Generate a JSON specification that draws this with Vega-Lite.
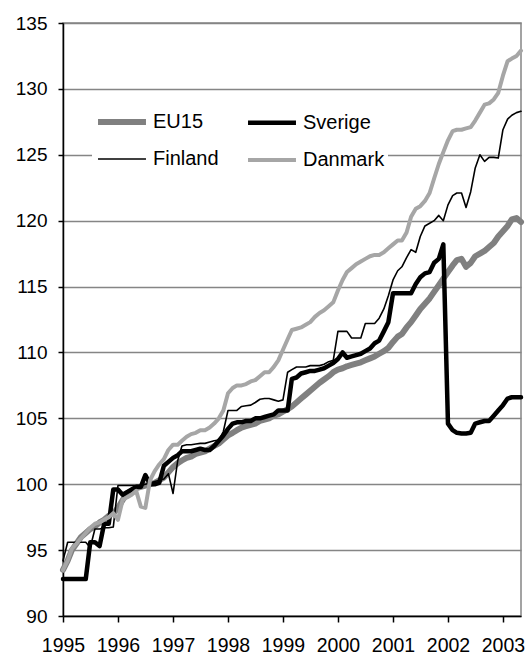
{
  "$schema": "https://vega.github.io/schema/vega-lite/v6.json",
  "autosize": "none",
  "width": 458,
  "height": 593,
  "padding": {"left": 63, "top": 23, "right": 9, "bottom": 39},
  "background": "white",
  "config": {
    "font": "Liberation Sans",
    "view": {"stroke": "#858585", "strokeWidth": 1.5}
  },
  "data": {
    "values": [
      {"date": "1995-01-01", "EU15": 93.5, "Sverige": 92.8, "Finland": 94.2, "Danmark": 93.5},
      {"date": "1995-02-01", "EU15": 94.2, "Sverige": 92.8, "Finland": 95.6, "Danmark": 94.2},
      {"date": "1995-03-01", "EU15": 95.0, "Sverige": 92.8, "Finland": 95.6, "Danmark": 95.1},
      {"date": "1995-04-01", "EU15": 95.5, "Sverige": 92.8, "Finland": 95.6, "Danmark": 95.5},
      {"date": "1995-05-01", "EU15": 96.0, "Sverige": 92.8, "Finland": 95.6, "Danmark": 95.9},
      {"date": "1995-06-01", "EU15": 96.3, "Sverige": 92.8, "Finland": 95.6, "Danmark": 96.3},
      {"date": "1995-07-01", "EU15": 96.6, "Sverige": 95.6, "Finland": 95.2, "Danmark": 96.7},
      {"date": "1995-08-01", "EU15": 96.8, "Sverige": 95.6, "Finland": 96.6, "Danmark": 97.0},
      {"date": "1995-09-01", "EU15": 97.1, "Sverige": 95.3, "Finland": 96.6, "Danmark": 97.1},
      {"date": "1995-10-01", "EU15": 97.3, "Sverige": 97.0, "Finland": 96.7, "Danmark": 97.3},
      {"date": "1995-11-01", "EU15": 97.6, "Sverige": 97.0, "Finland": 96.7, "Danmark": 97.5},
      {"date": "1995-12-01", "EU15": 97.8, "Sverige": 99.6, "Finland": 96.75, "Danmark": 97.8},
      {"date": "1996-01-01", "EU15": 98.2, "Sverige": 99.6, "Finland": 99.9, "Danmark": 97.3},
      {"date": "1996-02-01", "EU15": 98.8, "Sverige": 99.2, "Finland": 99.9, "Danmark": 98.8},
      {"date": "1996-03-01", "EU15": 99.3, "Sverige": 99.4, "Finland": 99.9, "Danmark": 99.0},
      {"date": "1996-04-01", "EU15": 99.5, "Sverige": 99.6, "Finland": 99.9, "Danmark": 99.2},
      {"date": "1996-05-01", "EU15": 99.7, "Sverige": 99.8, "Finland": 99.9, "Danmark": 99.5},
      {"date": "1996-06-01", "EU15": 99.8, "Sverige": 99.8, "Finland": 99.9, "Danmark": 98.3},
      {"date": "1996-07-01", "EU15": 99.9, "Sverige": 100.7, "Finland": 100.0, "Danmark": 98.2},
      {"date": "1996-08-01", "EU15": 100.0, "Sverige": 100.0, "Finland": 100.1, "Danmark": 100.3},
      {"date": "1996-09-01", "EU15": 100.1, "Sverige": 100.0, "Finland": 100.2, "Danmark": 101.0},
      {"date": "1996-10-01", "EU15": 100.3, "Sverige": 100.1, "Finland": 100.3, "Danmark": 101.5},
      {"date": "1996-11-01", "EU15": 100.5, "Sverige": 101.4, "Finland": 100.4, "Danmark": 101.9},
      {"date": "1996-12-01", "EU15": 100.9, "Sverige": 101.7, "Finland": 100.8, "Danmark": 102.6},
      {"date": "1997-01-01", "EU15": 101.3, "Sverige": 102.0, "Finland": 99.3, "Danmark": 103.0},
      {"date": "1997-02-01", "EU15": 101.6, "Sverige": 102.2, "Finland": 101.8, "Danmark": 103.0},
      {"date": "1997-03-01", "EU15": 101.8, "Sverige": 102.5, "Finland": 102.9, "Danmark": 103.3},
      {"date": "1997-04-01", "EU15": 102.0, "Sverige": 102.5, "Finland": 103.0, "Danmark": 103.6},
      {"date": "1997-05-01", "EU15": 102.1, "Sverige": 102.5, "Finland": 103.0, "Danmark": 103.8},
      {"date": "1997-06-01", "EU15": 102.3, "Sverige": 102.6, "Finland": 103.05, "Danmark": 103.9},
      {"date": "1997-07-01", "EU15": 102.4, "Sverige": 102.7, "Finland": 103.1, "Danmark": 104.1},
      {"date": "1997-08-01", "EU15": 102.5, "Sverige": 102.6, "Finland": 103.1, "Danmark": 104.1},
      {"date": "1997-09-01", "EU15": 102.7, "Sverige": 102.6, "Finland": 103.2, "Danmark": 104.3},
      {"date": "1997-10-01", "EU15": 102.9, "Sverige": 102.9, "Finland": 103.3, "Danmark": 104.6},
      {"date": "1997-11-01", "EU15": 103.1, "Sverige": 103.3, "Finland": 103.35, "Danmark": 105.0},
      {"date": "1997-12-01", "EU15": 103.4, "Sverige": 103.7, "Finland": 104.0, "Danmark": 105.6},
      {"date": "1998-01-01", "EU15": 103.7, "Sverige": 104.2, "Finland": 105.6, "Danmark": 106.9},
      {"date": "1998-02-01", "EU15": 103.9, "Sverige": 104.6, "Finland": 105.6, "Danmark": 107.3},
      {"date": "1998-03-01", "EU15": 104.1, "Sverige": 104.7, "Finland": 105.6, "Danmark": 107.5},
      {"date": "1998-04-01", "EU15": 104.3, "Sverige": 104.7, "Finland": 105.9, "Danmark": 107.5},
      {"date": "1998-05-01", "EU15": 104.4, "Sverige": 104.8, "Finland": 105.95, "Danmark": 107.6},
      {"date": "1998-06-01", "EU15": 104.5, "Sverige": 104.8, "Finland": 106.0, "Danmark": 107.8},
      {"date": "1998-07-01", "EU15": 104.6, "Sverige": 105.0, "Finland": 106.2, "Danmark": 107.9},
      {"date": "1998-08-01", "EU15": 104.8, "Sverige": 105.0, "Finland": 106.45, "Danmark": 108.2},
      {"date": "1998-09-01", "EU15": 104.9, "Sverige": 105.1, "Finland": 106.5, "Danmark": 108.5},
      {"date": "1998-10-01", "EU15": 105.0, "Sverige": 105.2, "Finland": 106.5, "Danmark": 108.5},
      {"date": "1998-11-01", "EU15": 105.2, "Sverige": 105.3, "Finland": 106.4, "Danmark": 108.9},
      {"date": "1998-12-01", "EU15": 105.3, "Sverige": 105.6, "Finland": 106.3, "Danmark": 109.4},
      {"date": "1999-01-01", "EU15": 105.5, "Sverige": 105.6, "Finland": 106.4, "Danmark": 110.2},
      {"date": "1999-02-01", "EU15": 105.7, "Sverige": 105.6, "Finland": 108.5, "Danmark": 111.0},
      {"date": "1999-03-01", "EU15": 105.9, "Sverige": 108.0, "Finland": 108.7, "Danmark": 111.7},
      {"date": "1999-04-01", "EU15": 106.2, "Sverige": 108.1, "Finland": 108.9, "Danmark": 111.8},
      {"date": "1999-05-01", "EU15": 106.5, "Sverige": 108.4, "Finland": 108.9, "Danmark": 111.9},
      {"date": "1999-06-01", "EU15": 106.8, "Sverige": 108.5, "Finland": 108.9, "Danmark": 112.1},
      {"date": "1999-07-01", "EU15": 107.1, "Sverige": 108.6, "Finland": 109.0, "Danmark": 112.3},
      {"date": "1999-08-01", "EU15": 107.4, "Sverige": 108.6, "Finland": 109.0, "Danmark": 112.7},
      {"date": "1999-09-01", "EU15": 107.7, "Sverige": 108.7, "Finland": 109.0, "Danmark": 113.0},
      {"date": "1999-10-01", "EU15": 107.95, "Sverige": 108.8, "Finland": 109.1, "Danmark": 113.2},
      {"date": "1999-11-01", "EU15": 108.2, "Sverige": 109.0, "Finland": 109.3, "Danmark": 113.5},
      {"date": "1999-12-01", "EU15": 108.5, "Sverige": 109.2, "Finland": 109.4, "Danmark": 113.8},
      {"date": "2000-01-01", "EU15": 108.7, "Sverige": 109.5, "Finland": 111.6, "Danmark": 114.7},
      {"date": "2000-02-01", "EU15": 108.8, "Sverige": 110.0, "Finland": 111.6, "Danmark": 115.5},
      {"date": "2000-03-01", "EU15": 108.95, "Sverige": 109.6, "Finland": 111.6, "Danmark": 116.1},
      {"date": "2000-04-01", "EU15": 109.05, "Sverige": 109.7, "Finland": 111.1, "Danmark": 116.4},
      {"date": "2000-05-01", "EU15": 109.15, "Sverige": 109.8, "Finland": 111.1, "Danmark": 116.7},
      {"date": "2000-06-01", "EU15": 109.25, "Sverige": 109.9, "Finland": 111.1, "Danmark": 116.9},
      {"date": "2000-07-01", "EU15": 109.4, "Sverige": 110.1, "Finland": 112.2, "Danmark": 117.1},
      {"date": "2000-08-01", "EU15": 109.55, "Sverige": 110.3, "Finland": 112.2, "Danmark": 117.3},
      {"date": "2000-09-01", "EU15": 109.7, "Sverige": 110.7, "Finland": 112.2, "Danmark": 117.4},
      {"date": "2000-10-01", "EU15": 109.9, "Sverige": 110.9, "Finland": 112.6, "Danmark": 117.4},
      {"date": "2000-11-01", "EU15": 110.1, "Sverige": 111.6, "Finland": 113.3, "Danmark": 117.6},
      {"date": "2000-12-01", "EU15": 110.35, "Sverige": 112.3, "Finland": 114.3, "Danmark": 117.9},
      {"date": "2001-01-01", "EU15": 110.8, "Sverige": 114.5, "Finland": 115.5, "Danmark": 118.2},
      {"date": "2001-02-01", "EU15": 111.2, "Sverige": 114.5, "Finland": 116.2, "Danmark": 118.5},
      {"date": "2001-03-01", "EU15": 111.4, "Sverige": 114.5, "Finland": 116.5, "Danmark": 118.5},
      {"date": "2001-04-01", "EU15": 111.9, "Sverige": 114.5, "Finland": 117.2, "Danmark": 119.1},
      {"date": "2001-05-01", "EU15": 112.3, "Sverige": 114.5, "Finland": 117.8, "Danmark": 120.3},
      {"date": "2001-06-01", "EU15": 112.8, "Sverige": 115.2, "Finland": 117.6, "Danmark": 120.9},
      {"date": "2001-07-01", "EU15": 113.3, "Sverige": 115.7, "Finland": 118.8, "Danmark": 121.1},
      {"date": "2001-08-01", "EU15": 113.7, "Sverige": 116.0, "Finland": 119.6, "Danmark": 121.5},
      {"date": "2001-09-01", "EU15": 114.1, "Sverige": 116.1, "Finland": 119.8, "Danmark": 122.1},
      {"date": "2001-10-01", "EU15": 114.6, "Sverige": 116.8, "Finland": 120.0, "Danmark": 123.2},
      {"date": "2001-11-01", "EU15": 115.1, "Sverige": 117.1, "Finland": 120.4, "Danmark": 124.3},
      {"date": "2001-12-01", "EU15": 115.6, "Sverige": 118.2, "Finland": 120.0, "Danmark": 125.2},
      {"date": "2002-01-01", "EU15": 116.1, "Sverige": 104.6, "Finland": 121.2, "Danmark": 126.1},
      {"date": "2002-02-01", "EU15": 116.6, "Sverige": 104.1, "Finland": 121.9, "Danmark": 126.8},
      {"date": "2002-03-01", "EU15": 117.0, "Sverige": 103.9, "Finland": 122.1, "Danmark": 126.9},
      {"date": "2002-04-01", "EU15": 117.1, "Sverige": 103.85, "Finland": 122.1, "Danmark": 126.9},
      {"date": "2002-05-01", "EU15": 116.5, "Sverige": 103.85, "Finland": 121.0, "Danmark": 127.0},
      {"date": "2002-06-01", "EU15": 116.8, "Sverige": 103.9, "Finland": 122.2, "Danmark": 127.1},
      {"date": "2002-07-01", "EU15": 117.3, "Sverige": 104.6, "Finland": 124.0, "Danmark": 127.6},
      {"date": "2002-08-01", "EU15": 117.5, "Sverige": 104.7, "Finland": 125.0, "Danmark": 128.2},
      {"date": "2002-09-01", "EU15": 117.7, "Sverige": 104.8, "Finland": 124.5, "Danmark": 128.8},
      {"date": "2002-10-01", "EU15": 118.0, "Sverige": 104.8, "Finland": 124.8, "Danmark": 128.9},
      {"date": "2002-11-01", "EU15": 118.3, "Sverige": 105.2, "Finland": 124.8, "Danmark": 129.2},
      {"date": "2002-12-01", "EU15": 118.8, "Sverige": 105.6, "Finland": 124.75, "Danmark": 129.7},
      {"date": "2003-01-01", "EU15": 119.2, "Sverige": 106.0, "Finland": 126.9, "Danmark": 131.0},
      {"date": "2003-02-01", "EU15": 119.6, "Sverige": 106.5, "Finland": 127.7, "Danmark": 132.1},
      {"date": "2003-03-01", "EU15": 120.1, "Sverige": 106.6, "Finland": 128.0, "Danmark": 132.3},
      {"date": "2003-04-01", "EU15": 120.2, "Sverige": 106.6, "Finland": 128.2, "Danmark": 132.5},
      {"date": "2003-05-01", "EU15": 119.9, "Sverige": 106.6, "Finland": 128.3, "Danmark": 132.9}
    ]
  },
  "transform": [
    {"fold": ["EU15", "Sverige", "Finland", "Danmark"], "as": ["series", "value"]}
  ],
  "mark": {"type": "line", "strokeCap": "round", "strokeJoin": "round"},
  "encoding": {
    "x": {
      "field": "date",
      "type": "temporal",
      "scale": {
        "type": "utc",
        "domain": [
          {"year": 1995, "month": "jan", "date": 1, "utc": true},
          {"year": 2003, "month": "may", "date": 1, "utc": true}
        ]
      },
      "axis": {
        "title": null,
        "grid": false,
        "values": [
          {"year": 1995, "utc": true}, {"year": 1996, "utc": true}, {"year": 1997, "utc": true},
          {"year": 1998, "utc": true}, {"year": 1999, "utc": true}, {"year": 2000, "utc": true},
          {"year": 2001, "utc": true}, {"year": 2002, "utc": true}, {"year": 2003, "utc": true}
        ],
        "format": "%Y",
        "domainColor": "black",
        "domainWidth": 1.5,
        "tickColor": "black",
        "tickWidth": 1.5,
        "tickSize": 6,
        "labelFontSize": 19.5,
        "labelColor": "black",
        "labelPadding": 14,
        "labelFlush": false,
        "labelOverlap": false
      }
    },
    "y": {
      "field": "value",
      "type": "quantitative",
      "scale": {"domain": [90, 135], "zero": false, "nice": false},
      "axis": {
        "title": null,
        "values": [90, 95, 100, 105, 110, 115, 120, 125, 130, 135],
        "grid": true,
        "gridColor": "#858585",
        "gridWidth": 1.5,
        "domainColor": "black",
        "domainWidth": 1.5,
        "tickColor": "black",
        "tickWidth": 1.5,
        "tickSize": 5,
        "labelFontSize": 19,
        "labelColor": "black",
        "labelPadding": 11,
        "labelFlush": false,
        "labelOverlap": false
      }
    },
    "color": {
      "field": "series",
      "type": "nominal",
      "scale": {
        "domain": ["EU15", "Sverige", "Finland", "Danmark"],
        "range": ["#808080", "#000000", "#000000", "#a6a6a6"]
      },
      "legend": {
        "title": null,
        "orient": "none",
        "direction": "horizontal",
        "legendX": 29,
        "legendY": 69,
        "columns": 2,
        "symbolType": "stroke",
        "symbolSize": 2300,
        "labelFontSize": 20,
        "labelColor": "black",
        "labelOffset": 4,
        "rowPadding": -13,
        "columnPadding": 20,
        "fillColor": "white",
        "padding": 3
      }
    },
    "strokeWidth": {
      "field": "series",
      "type": "nominal",
      "scale": {
        "type": "ordinal",
        "domain": ["EU15", "Sverige", "Finland", "Danmark"],
        "range": [6, 4.5, 1.6, 4]
      },
      "legend": {
        "title": null,
        "orient": "none",
        "direction": "horizontal",
        "legendX": 29,
        "legendY": 69,
        "columns": 2,
        "symbolType": "stroke",
        "symbolSize": 2300,
        "labelFontSize": 20,
        "labelColor": "black",
        "labelOffset": 4,
        "rowPadding": -13,
        "columnPadding": 20,
        "fillColor": "white",
        "padding": 3
      }
    }
  }
}
